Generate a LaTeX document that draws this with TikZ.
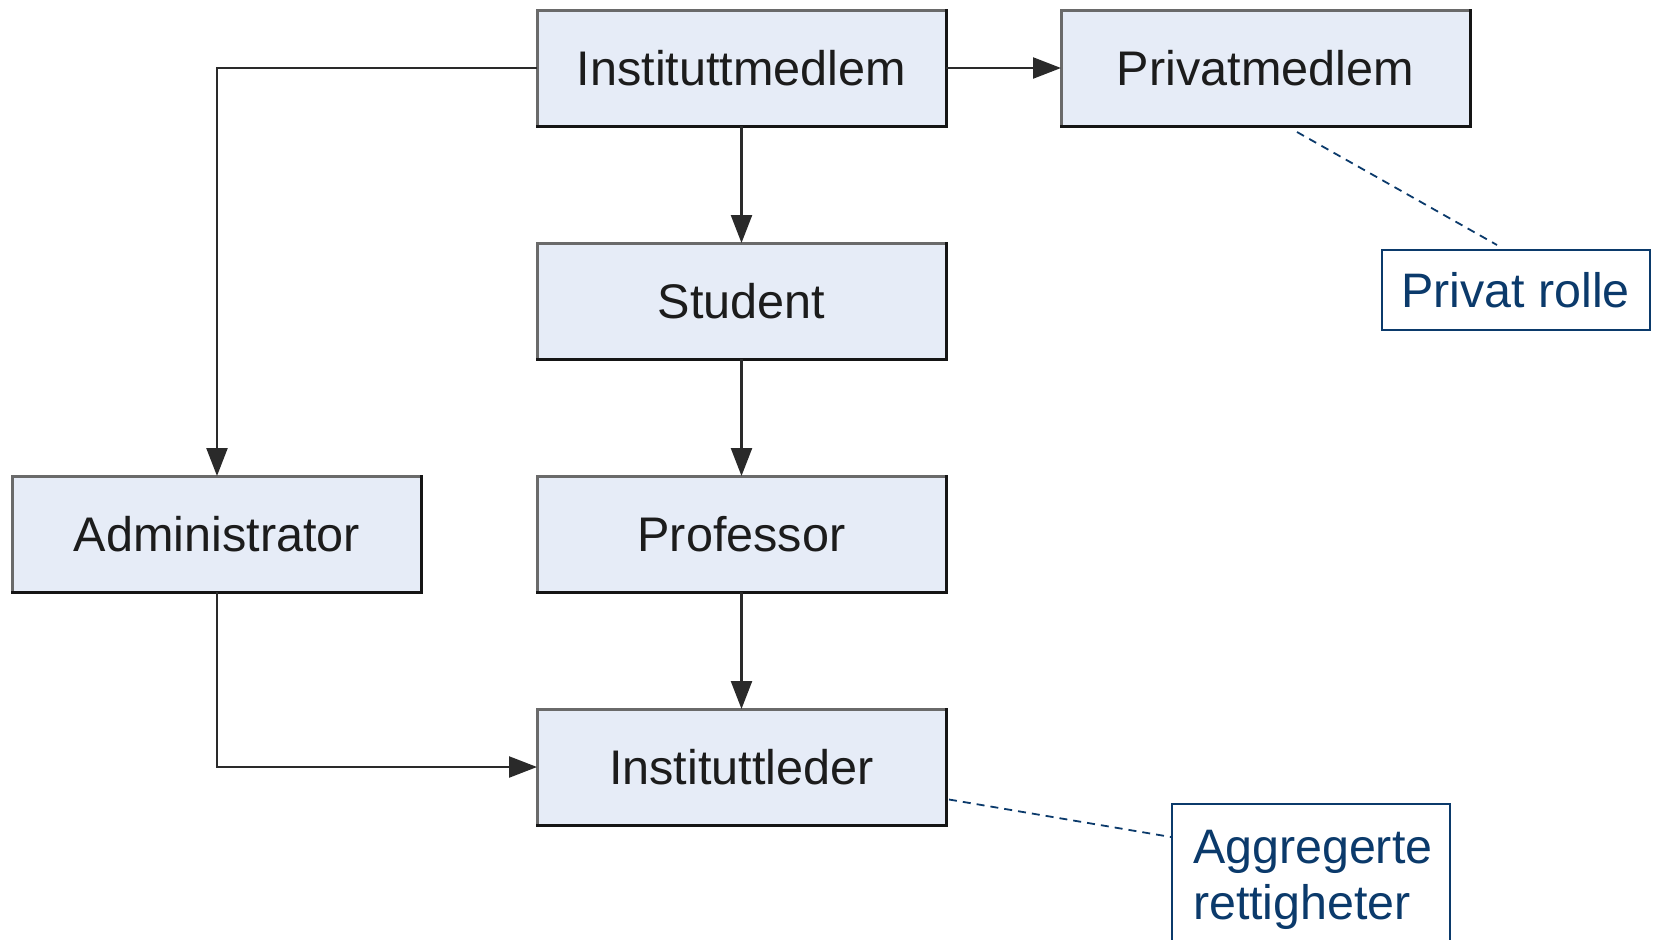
\documentclass[tikz,border=0pt]{standalone}
\usepackage{fontspec}
\setmainfont{Liberation Sans}
\usetikzlibrary{arrows.meta,calc}
\definecolor{boxfill}{HTML}{E6ECF7}
\definecolor{boxline}{HTML}{6A6A6A}
\definecolor{boxdark}{HTML}{151515}
\definecolor{boxtext}{HTML}{1C1C1C}
\definecolor{conn}{HTML}{2A2A2A}
\definecolor{annblue}{HTML}{0B3A6B}
\tikzset{
  rolebox/.style={draw=boxline, fill=boxfill, line width=1.5pt, inner sep=0pt, outer sep=0pt,
    minimum width=204.5pt, minimum height=58pt, text=boxtext,
    font=\fontsize{24.3}{28}\selectfont},
  boxedge/.style={draw=boxdark, line width=1.5pt, line cap=rect},
  annbox/.style={draw=annblue, line width=1pt, fill=white, text=annblue, inner sep=0pt,
    font=\fontsize{24.2}{28}\selectfont},
  conline/.style={draw=conn, line width=1.2pt, -{Triangle[length=14pt,width=10.5pt]}},
  annline/.style={draw=annblue, line width=0.9pt, dash pattern=on 4pt off 3pt}
}
\begin{document}
\begin{tikzpicture}[x=0.5pt,y=-0.5pt]
\useasboundingbox (0,0) rectangle (1656,939);
\clip (0,0) rectangle (1656,939);
% role boxes
\node[rolebox] (im) at (741.5,68) {Instituttmedlem};
\node[rolebox] (pm) at (1265.5,68) {Privatmedlem};
\node[rolebox] (st) at (741.5,301) {Student};
\node[rolebox] (pr) at (741.5,534) {Professor};
\node[rolebox] (ad) at (217,534) {Administrator};
\node[rolebox] (il) at (741.5,767) {Instituttleder};
% darker bottom and right edges
\foreach \n in {im,pm,st,pr,ad,il}
  \draw[boxedge] (\n.south west) -- (\n.south east) -- (\n.north east);
% annotation boxes
\node[annbox, minimum width=134pt, minimum height=40pt] (prl) at (1515.5,290) {Privat rolle};
\node[annbox, anchor=north west, align=left, text width=118pt, inner xsep=10.5pt, inner ysep=0pt]
  (agg) at (1171,803) {\rule{0pt}{29.5pt}Aggregerte\\rettigheter\rule[-31pt]{0pt}{31pt}};
% connectors
\draw[conline] (im.east) -- (pm.west);
\draw[conline] (im.south) -- (st.north);
\draw[conline] (st.south) -- (pr.north);
\draw[conline] (pr.south) -- (il.north);
\draw[conline] (im.west) -| (ad.north);
\draw[conline] (ad.south) |- (il.west);
% annotation leaders
\draw[annline] ([xshift=15.75pt,yshift=-3pt]pm.south) -- ([xshift=-9.25pt,yshift=2pt]prl.north);
\draw[annline] ([xshift=1.5pt,yshift=-16.25pt]il.east) -- ([yshift=-17pt]agg.north west);
\end{tikzpicture}
\end{document}
